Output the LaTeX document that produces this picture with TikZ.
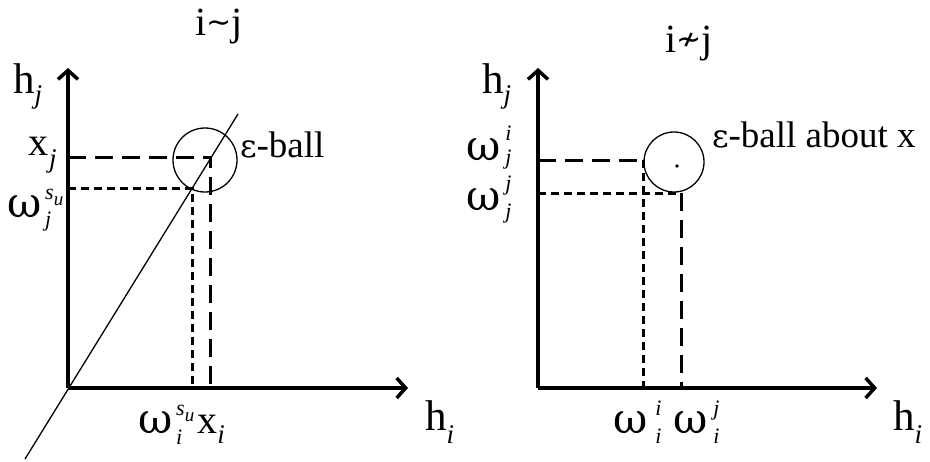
\documentclass[tikz,border=0pt]{standalone}
\usepackage{fontspec}
\setmainfont{Liberation Serif}
\newfontfamily\symfont{DejaVu Serif}
\newfontfamily\symsans{DejaVu Sans}
\usetikzlibrary{arrows.meta}
\newcommand\fbig{\fontsize{43}{43}\selectfont}
\newcommand\fmid{\fontsize{40}{40}\selectfont}
\newcommand\fball{\fontsize{37}{37}\selectfont}
\newcommand\fsub{\fontsize{27}{27}\selectfont\itshape}
\newcommand\fscr{\fontsize{22}{22}\selectfont\itshape}
\newcommand\fscrsub{\fontsize{19}{19}\selectfont\itshape}
\newcommand\om{{\symfont\fontsize{42}{42}\selectfont ω}}
\newcommand\eps{{\symfont\fontsize{32}{32}\selectfont ε}}
% \lsub{lower}{text}
\newcommand\lsub[2]{\raisebox{-#1}{\fsub #2}}
% \mysupsub{gap}{raise}{lower}{sup}{sub}
\newcommand\mysupsub[5]{\hspace{#1}%
  \setbox0\hbox{\fscr #4}\setbox2\hbox{\fscr #5}%
  \ifdim\wd0>\wd2 \dimen0=\wd0 \else \dimen0=\wd2 \fi
  \rlap{\raisebox{#2}{\box0}}\rlap{\raisebox{-#3}{\box2}}\hspace{\dimen0}}
\newcommand\su{s\raisebox{-6pt}{\fscrsub u}}
\begin{document}
\begin{tikzpicture}[x=1pt,y=-1pt,
  axis/.style={line width=3.5pt,-{Straight Barb[length=9pt,width=20pt,line width=3.5pt]}},
  longdash/.style={line width=3pt,dash pattern=on 18pt off 9pt},
  shortdash/.style={line width=3pt,dash pattern=on 8pt off 5pt},
  thinline/.style={line width=1.3pt},
  lbl/.style={anchor=base west,inner sep=0pt,outer sep=0pt,font=\fmid}]
\useasboundingbox (0,0) rectangle (930,461);

% ---------- left panel ----------
\coordinate (O1) at (68,388);
\coordinate (Y1) at (68,68);
\coordinate (X1) at (408,388);
\coordinate (D1a) at (25,459);
\coordinate (D1b) at (238,114);
\coordinate (P1) at (210,157);
\coordinate (P1y) at (68,157);
\coordinate (P1x) at (210,388);
\coordinate (Q1) at (192,188);
\coordinate (Q1y) at (68,188);
\coordinate (Q1x) at (192,388);

\node[circle,draw,thinline,minimum size=64pt,inner sep=0pt] (ball1) at (205,160) {};
\draw[thinline] (D1a) -- (D1b);
\draw[longdash] (P1y) -- (P1) -- (P1x);
\draw[shortdash] (Q1y) -- (Q1) -- (Q1x);
\draw[axis] (O1) -- (Y1);
\draw[axis] (O1) -- (X1);

\node[lbl] (t1) at (195,35) {i\raisebox{3pt}{\symsans\fontsize{30}{30}\selectfont ∼}j};
\node[lbl] (hj1) at (13,93) {\fbig h\lsub{10pt}{j}};
\node[lbl] (xj1) at (28,155) {x\hspace{1pt}\lsub{12pt}{j}};
\node[lbl] (wj1) at (8,217) {\om\mysupsub{3pt}{18pt}{9pt}{\su}{j}};
\node[lbl] (eb1) at (240,157) {\fball\eps-ball};
\node[lbl] (wi1) at (138,433) {\om\mysupsub{4pt}{18pt}{11pt}{\su}{i}\hspace{3pt}x\lsub{10pt}{i}};
\node[lbl] (hi1) at (425,430) {\fbig h\lsub{13pt}{i}};

% ---------- right panel ----------
\coordinate (O2) at (538,388);
\coordinate (Y2) at (538,68);
\coordinate (X2) at (877,388);
\coordinate (A2) at (643,160);
\coordinate (A2y) at (538,160);
\coordinate (A2x) at (643,388);
\coordinate (B2) at (681,193);
\coordinate (B2y) at (538,193);
\coordinate (B2x) at (681,388);

\node[circle,draw,thinline,minimum size=60pt,inner sep=0pt] (ball2) at (674,162) {};
\fill (677,166) circle (1.8pt);
\draw[longdash] (A2y) -- (A2);
\draw[shortdash] (A2) -- (A2x);
\draw[shortdash] (B2y) -- (B2);
\draw[longdash] (B2) -- (B2x);
\draw[axis] (O2) -- (Y2);
\draw[axis] (O2) -- (X2);

\node[lbl] (t2) at (665,52) {i\raisebox{3pt}{\symsans\fontsize{30}{30}\selectfont ≁}j};
\node[lbl] (hj2) at (482,93) {\fbig h\lsub{10pt}{j}};
\node[lbl] (wij2) at (466,160) {\om\mysupsub{5pt}{20pt}{4pt}{i}{j}};
\node[lbl] (wjj2) at (466,210) {\om\mysupsub{5pt}{20pt}{8pt}{j}{j}};
\node[lbl] (eb2) at (712,147) {\fball\eps-ball about x};
\node[lbl] (wii2) at (613,433) {\om\mysupsub{8pt}{18pt}{10pt}{i}{i}};
\node[lbl] (wji2) at (673,433) {\om\mysupsub{6pt}{18pt}{10pt}{j}{i}};
\node[lbl] (hi2) at (893,430) {\fbig h\lsub{13pt}{i}};
\end{tikzpicture}
\end{document}
